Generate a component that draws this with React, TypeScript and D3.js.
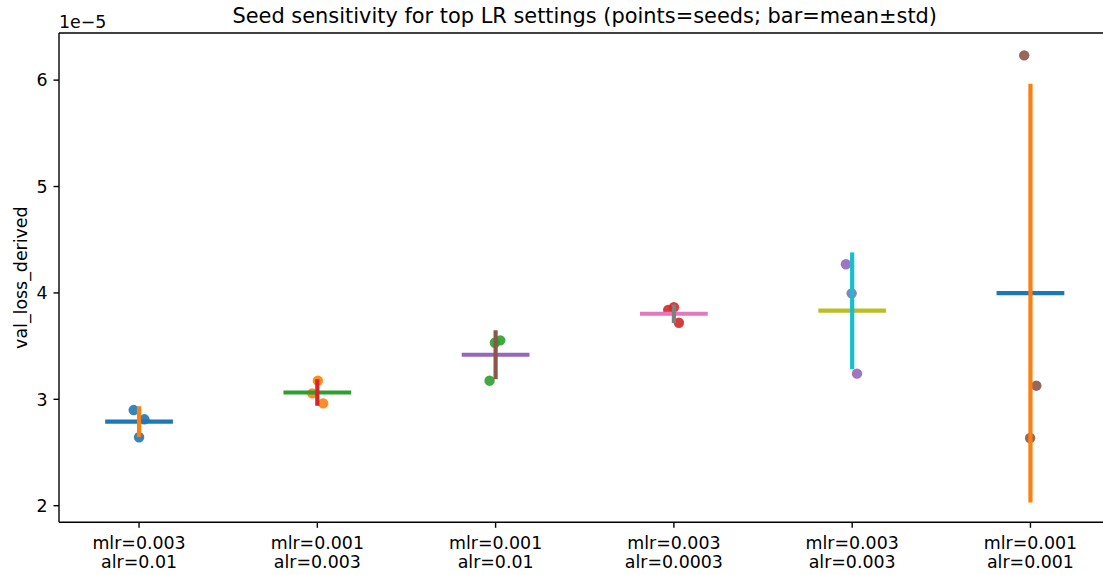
import React from "react";
import * as d3 from "d3";

const categories: string[][] = [
  ["mlr=0.003", "alr=0.01"],
  ["mlr=0.001", "alr=0.003"],
  ["mlr=0.001", "alr=0.01"],
  ["mlr=0.003", "alr=0.0003"],
  ["mlr=0.003", "alr=0.003"],
  ["mlr=0.001", "alr=0.001"],
];

// seed values (×1e-5) with horizontal jitter offsets
const seedValues: number[][] = [
  [2.899, 2.812, 2.643],
  [3.175, 3.056, 2.962],
  [3.554, 3.532, 3.175],
  [3.865, 3.839, 3.72],
  [4.269, 3.996, 3.241],
  [6.233, 3.128, 2.636],
];
const seedJitter: number[][] = [
  [-0.03, 0.03, 0.0],
  [0.003, -0.028, 0.033],
  [0.026, -0.004, -0.034],
  [0.0, -0.032, 0.028],
  [-0.035, -0.003, 0.027],
  [-0.035, 0.033, -0.002],
];
const means: number[] = [2.79, 3.064, 3.419, 3.804, 3.833, 3.998];
const stds: number[] = [0.145, 0.125, 0.23, 0.087, 0.548, 1.967];
const yTicks: number[] = [2, 3, 4, 5, 6];

const C = d3.schemeCategory10;

export default function App() {
  const W = 1103;
  const H = 575;
  const left = 59;
  const right = 1110.5;
  const top = 33;
  const bottom = 522.3;

  const x = d3.scaleLinear().domain([-0.449, 5.449]).range([left, right]);
  const y = d3.scaleLinear().domain([1.844, 6.443]).range([bottom, top]);
  const font = "DejaVu Sans, sans-serif";
  const halfW = 0.19;
  const fs = 17.4;

  return (
    <svg
      width={W}
      height={H}
      style={{ position: "absolute", left: 0, top: 0, background: "#fff" }}
      fontFamily={font}
    >
      <rect x={0} y={0} width={W} height={H} fill="#fff" />
      {categories.map((_, i) => {
        const ptColor = C[i % 10];
        const meanColor = C[(i * 2) % 10];
        const errColor = C[(i * 2 + 1) % 10];
        return (
          <g key={i}>
            {seedValues[i].map((v, j) => (
              <circle
                key={j}
                cx={x(i + seedJitter[i][j])}
                cy={y(v)}
                r={5.2}
                fill={ptColor}
                fillOpacity={0.9}
              />
            ))}
            <line
              x1={x(i - halfW)}
              x2={x(i + halfW)}
              y1={y(means[i])}
              y2={y(means[i])}
              stroke={meanColor}
              strokeWidth={4.2}
            />
            <line
              x1={x(i)}
              x2={x(i)}
              y1={y(means[i] - stds[i])}
              y2={y(means[i] + stds[i])}
              stroke={errColor}
              strokeWidth={4.2}
            />
          </g>
        );
      })}

      {/* spines */}
      <g stroke="#000" strokeWidth={1.4} fill="none">
        <line x1={left} x2={left} y1={top} y2={bottom} />
        <line x1={left} x2={right} y1={bottom} y2={bottom} />
        <line x1={left} x2={right} y1={top} y2={top} />
        <line x1={right} x2={right} y1={top} y2={bottom} />
      </g>

      {/* y ticks */}
      {yTicks.map((t) => (
        <g key={t}>
          <line x1={left - 5.5} x2={left} y1={y(t)} y2={y(t)} stroke="#000" strokeWidth={1.4} />
          <text x={left - 11.5} y={y(t)} dy="0.36em" textAnchor="end" fontSize={fs} fill="#000">
            {t}
          </text>
        </g>
      ))}

      {/* x ticks */}
      {categories.map((c, i) => (
        <g key={i}>
          <line x1={x(i)} x2={x(i)} y1={bottom} y2={bottom + 5.5} stroke="#000" strokeWidth={1.4} />
          <text x={x(i)} y={549} textAnchor="middle" fontSize={fs} fill="#000">
            {c[0]}
          </text>
          <text x={x(i)} y={568} textAnchor="middle" fontSize={fs} fill="#000">
            {c[1]}
          </text>
        </g>
      ))}

      <text x={left} y={28} fontSize={fs} fill="#000">
        1e−5
      </text>
      <text
        transform={`translate(27,${(top + bottom) / 2}) rotate(-90)`}
        textAnchor="middle"
        fontSize={fs}
        fill="#000"
      >
        val_loss_derived
      </text>
      <text x={(left + right) / 2} y={23} textAnchor="middle" fontSize={20.9} fill="#000">
        Seed sensitivity for top LR settings (points=seeds; bar=mean±std)
      </text>
    </svg>
  );
}
